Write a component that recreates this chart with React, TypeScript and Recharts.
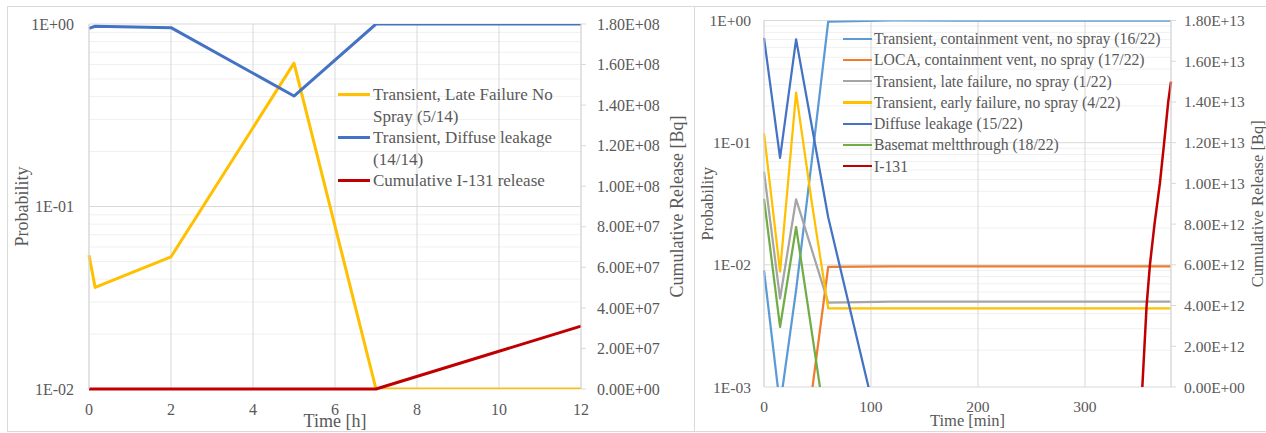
import React from 'react';
import { LineChart, Line, XAxis, YAxis, CartesianGrid, Legend, Label } from 'recharts';

const FONT = "'Liberation Serif', 'Times New Roman', serif";
const TXT = '#595959';
const GRID = '#D9D9D9';
const MINOR = '#F0F0F0';

// ---------- Left chart data (time in hours) ----------
const hours = [0, 0.15, 2, 5, 7, 12];
const hourTicks = [0, 2, 4, 6, 8, 10, 12];
const lateFailureNoSpray = [0.054, 0.036, 0.053, 0.61, 0.01, 0.01];
const diffuseLeakage14 = [0.947, 0.972, 0.955, 0.403, 1.0, 1.0];
const cumulativeI131 = [0, 0, 0, 0, 0, 3.1e7];
const probTicksLeft = [0.01, 0.1, 1];
const releaseTicksLeft = [0, 2e7, 4e7, 6e7, 8e7, 1e8, 1.2e8, 1.4e8, 1.6e8, 1.8e8];
const legendLeftNames = [
  'Transient, Late Failure No Spray (5/14)',
  'Transient, Diffuse leakage (14/14)',
  'Cumulative I-131 release',
];
const legendLeftColors = ['#FFC000', '#4472C4', '#C00000'];

// ---------- Right chart data (time in minutes) ----------
const minutes = [0, 15, 30, 45, 60, 120, 180, 240, 300, 380];
const minuteTicks = [0, 100, 200, 300];
const ventTransient = [0.009, 0.0007, 0.0062, 0.075, 0.98, 1.0, 1.0, 1.0, 1.0, 1.0];
const ventLoca = [null, null, null, 0.00095, 0.0096, 0.0097, 0.0097, 0.0097, 0.0097, 0.0097];
const lateFailure = [0.058, 0.0053, 0.0344, 0.013, 0.0049, 0.005, 0.005, 0.005, 0.005, 0.005];
const earlyFailure = [0.119, 0.0088, 0.257, 0.031, 0.0044, 0.0044, 0.0044, 0.0044, 0.0044, 0.0044];
const diffuseLeakage15 = [0.72, 0.075, 0.7, 0.132, 0.0245, 0.00015, null, null, null, null];
const basemat = [0.0346, 0.0031, 0.0204, 0.0027, 0.00035, null, null, null, null, null];
const i131Minutes = [353.6, 357.6, 360.7, 365, 370, 374, 377.8, 380.4];
const i131Release = [0, 4e12, 6e12, 8e12, 1e13, 1.2e13, 1.4e13, 1.5e13];
const probTicksRight = [0.001, 0.01, 0.1, 1];
const releaseTicksRight = [0, 2e12, 4e12, 6e12, 8e12, 1e13, 1.2e13, 1.4e13, 1.6e13, 1.8e13];
const legendRightNames = [
  'Transient, containment vent, no spray (16/22)',
  'LOCA, containment vent, no spray (17/22)',
  'Transient, late failure, no spray (1/22)',
  'Transient, early failure, no spray (4/22)',
  'Diffuse leakage (15/22)',
  'Basemat meltthrough (18/22)',
  'I-131',
];
const legendRightColors = ['#5B9BD5', '#ED7D31', '#A5A5A5', '#FFC000', '#4472C4', '#70AD47', '#C00000'];

const minorMult = [2, 3, 4, 5, 6, 7, 8, 9];
const minorLeft = [0.01, 0.1].flatMap((d) => minorMult.map((m) => +(m * d).toPrecision(3)));
const minorRight = [0.001, 0.01, 0.1].flatMap((d) => minorMult.map((m) => +(m * d).toPrecision(3)));

const leftRows = hours.map((t, i) => ({
  t,
  late: lateFailureNoSpray[i],
  diffuse: diffuseLeakage14[i],
  rel: cumulativeI131[i],
}));

const rightRows = minutes.map((t, i) => ({
  t,
  vent: ventTransient[i],
  loca: ventLoca[i],
  late: lateFailure[i],
  early: earlyFailure[i],
  diffuse: diffuseLeakage15[i],
  basemat: basemat[i],
}));

const i131Rows = i131Minutes.map((t, i) => ({ t, rel: i131Release[i] }));

const logFmt = (v: number) => {
  const e = Math.round(Math.log10(v));
  return `1E${e < 0 ? '-' : '+'}${String(Math.abs(e)).padStart(2, '0')}`;
};
const sciFmt = (v: number) => {
  if (v === 0) return '0.00E+00';
  const e = Math.floor(Math.log10(v) + 1e-9);
  const m = v / Math.pow(10, e);
  return `${m.toFixed(2)}E+${String(e).padStart(2, '0')}`;
};

type LegendProps = {
  names: string[];
  colors: string[];
  fontSize: number;
  lineHeight: number;
  swatch: number;
  thickness: number;
  gap: number;
  textWidth?: number;
};

const LegendBox = ({ names, colors, fontSize, lineHeight, swatch, thickness, gap, textWidth }: LegendProps) => (
  <div style={{ fontFamily: FONT, fontSize, color: TXT, lineHeight: `${lineHeight}px` }}>
    {names.map((n, i) => (
      <div key={n} style={{ display: 'flex', alignItems: 'flex-start' }}>
        <div
          style={{
            width: swatch,
            height: thickness,
            background: colors[i],
            marginTop: lineHeight / 2 - thickness / 2,
            marginRight: gap,
            flex: 'none',
          }}
        />
        <div style={{ width: textWidth, whiteSpace: textWidth ? 'normal' : 'nowrap' }}>{n}</div>
      </div>
    ))}
  </div>
);

const LeftChart = () => (
  <LineChart width={694} height={433} data={leftRows} margin={{ top: 24, right: 0, bottom: 0, left: 0 }}>
    <CartesianGrid yAxisId="p" vertical={false} horizontalValues={minorLeft} stroke={MINOR} />
    <CartesianGrid yAxisId="p" horizontalValues={probTicksLeft} stroke={GRID} />
    <XAxis
      dataKey="t"
      type="number"
      domain={[0, 12]}
      ticks={hourTicks}
      interval={0}
      tickLine={false}
      tickSize={0}
      tickMargin={15}
      height={44}
      axisLine={false}
      tick={{ fill: TXT, fontSize: 16, fontFamily: FONT }}
    >
      <Label value="Time [h]" position="center" dy={10} style={{ fill: TXT, fontSize: 18, fontFamily: FONT }} />
    </XAxis>
    <YAxis
      yAxisId="p"
      orientation="left"
      scale="log"
      domain={[0.01, 1]}
      ticks={probTicksLeft}
      interval={0}
      allowDataOverflow
      tickFormatter={logFmt}
      width={89}
      tickLine={false}
      tickSize={0}
      tickMargin={15}
      axisLine={{ stroke: GRID }}
      tick={{ fill: TXT, fontSize: 16, fontFamily: FONT }}
    >
      <Label value="Probability" angle={-90} position="center" dx={-22.5} style={{ fill: TXT, fontSize: 18, fontFamily: FONT }} />
    </YAxis>
    <YAxis
      yAxisId="r"
      orientation="right"
      domain={[0, 1.8e8]}
      ticks={releaseTicksLeft}
      interval={0}
      tickFormatter={sciFmt}
      width={113}
      tickSize={5}
      tickMargin={11}
      tickLine={{ stroke: GRID }}
      axisLine={{ stroke: GRID }}
      tick={{ fill: TXT, fontSize: 16, fontFamily: FONT }}
    >
      <Label value="Cumulative Release [Bq]" angle={-90} position="center" dx={39.5} style={{ fill: TXT, fontSize: 18, fontFamily: FONT }} />
    </YAxis>
    <Line yAxisId="p" dataKey="late" stroke={legendLeftColors[0]} strokeWidth={3} dot={false} isAnimationActive={false} strokeLinejoin="round" />
    <Line yAxisId="p" dataKey="diffuse" stroke={legendLeftColors[1]} strokeWidth={3} dot={false} isAnimationActive={false} strokeLinejoin="round" />
    <Line yAxisId="r" dataKey="rel" stroke={legendLeftColors[2]} strokeWidth={3} dot={false} isAnimationActive={false} strokeLinejoin="round" />
    <Legend
      layout="vertical"
      align="center"
      verticalAlign="middle"
      wrapperStyle={{ left: 338, top: 84, width: 240 }}
      content={() => (
        <LegendBox names={legendLeftNames} colors={legendLeftColors} fontSize={17} lineHeight={21.5} swatch={32} thickness={3} gap={3} textWidth={200} />
      )}
    />
  </LineChart>
);

const RightChart = () => (
  <LineChart width={572} height={433} data={rightRows} margin={{ top: 20.5, right: 0, bottom: 0, left: 0 }}>
    <CartesianGrid yAxisId="p" vertical={false} horizontalValues={minorRight} stroke={MINOR} />
    <CartesianGrid yAxisId="p" horizontalValues={probTicksRight} stroke={GRID} />
    <XAxis
      dataKey="t"
      type="number"
      domain={[0, 380.4]}
      ticks={minuteTicks}
      interval={0}
      tickLine={false}
      tickSize={0}
      tickMargin={14}
      height={46}
      axisLine={false}
      tick={{ fill: TXT, fontSize: 15.5, fontFamily: FONT }}
    >
      <Label value="Time [min]" position="center" dy={10} style={{ fill: TXT, fontSize: 16.5, fontFamily: FONT }} />
    </XAxis>
    <YAxis
      yAxisId="p"
      orientation="left"
      scale="log"
      domain={[0.001, 1]}
      ticks={probTicksRight}
      interval={0}
      allowDataOverflow
      tickFormatter={logFmt}
      width={70}
      tickLine={false}
      tickSize={0}
      tickMargin={13}
      axisLine={{ stroke: GRID }}
      tick={{ fill: TXT, fontSize: 15.5, fontFamily: FONT }}
    >
      <Label value="Probability" angle={-90} position="center" dx={-22.3} style={{ fill: TXT, fontSize: 16.5, fontFamily: FONT }} />
    </YAxis>
    <YAxis
      yAxisId="r"
      orientation="right"
      domain={[0, 1.8e13]}
      ticks={releaseTicksRight}
      interval={0}
      tickFormatter={sciFmt}
      width={95}
      tickSize={5}
      tickMargin={8}
      tickLine={{ stroke: GRID }}
      axisLine={{ stroke: GRID }}
      tick={{ fill: TXT, fontSize: 15.5, fontFamily: FONT }}
    >
      <Label value="Cumulative Release [Bq]" angle={-90} position="center" dx={38.5} style={{ fill: TXT, fontSize: 16.5, fontFamily: FONT }} />
    </YAxis>
    <Line yAxisId="p" dataKey="vent" stroke={legendRightColors[0]} strokeWidth={2.25} dot={false} isAnimationActive={false} strokeLinejoin="round" />
    <Line yAxisId="p" dataKey="loca" stroke={legendRightColors[1]} strokeWidth={2.25} dot={false} isAnimationActive={false} strokeLinejoin="round" />
    <Line yAxisId="p" dataKey="late" stroke={legendRightColors[2]} strokeWidth={2.25} dot={false} isAnimationActive={false} strokeLinejoin="round" />
    <Line yAxisId="p" dataKey="early" stroke={legendRightColors[3]} strokeWidth={2.25} dot={false} isAnimationActive={false} strokeLinejoin="round" />
    <Line yAxisId="p" dataKey="diffuse" stroke={legendRightColors[4]} strokeWidth={2.25} dot={false} isAnimationActive={false} strokeLinejoin="round" />
    <Line yAxisId="p" dataKey="basemat" stroke={legendRightColors[5]} strokeWidth={2.25} dot={false} isAnimationActive={false} strokeLinejoin="round" />
    <Line yAxisId="r" data={i131Rows} dataKey="rel" stroke={legendRightColors[6]} strokeWidth={2.5} dot={false} isAnimationActive={false} strokeLinejoin="round" />
    <Legend
      layout="vertical"
      align="center"
      verticalAlign="middle"
      wrapperStyle={{ left: 149, top: 28, width: 330 }}
      content={() => (
        <LegendBox names={legendRightNames} colors={legendRightColors} fontSize={15.7} lineHeight={21.25} swatch={29} thickness={2.25} gap={2} />
      )}
    />
  </LineChart>
);

export default function App() {
  return (
    <div style={{ position: 'absolute', left: 0, top: 0, width: 1266, height: 433, background: '#fff', overflow: 'hidden' }}>
      <div style={{ position: 'absolute', left: 7, top: 6, width: 688, height: 426, border: `1px solid ${GRID}`, boxSizing: 'border-box' }} />
      <div style={{ position: 'absolute', left: 694, top: 6, width: 600, height: 426, border: `1px solid ${GRID}`, boxSizing: 'border-box' }} />
      <div style={{ position: 'absolute', left: 0, top: 0 }}>
        <LeftChart />
      </div>
      <div style={{ position: 'absolute', left: 694, top: 0 }}>
        <RightChart />
      </div>
    </div>
  );
}
